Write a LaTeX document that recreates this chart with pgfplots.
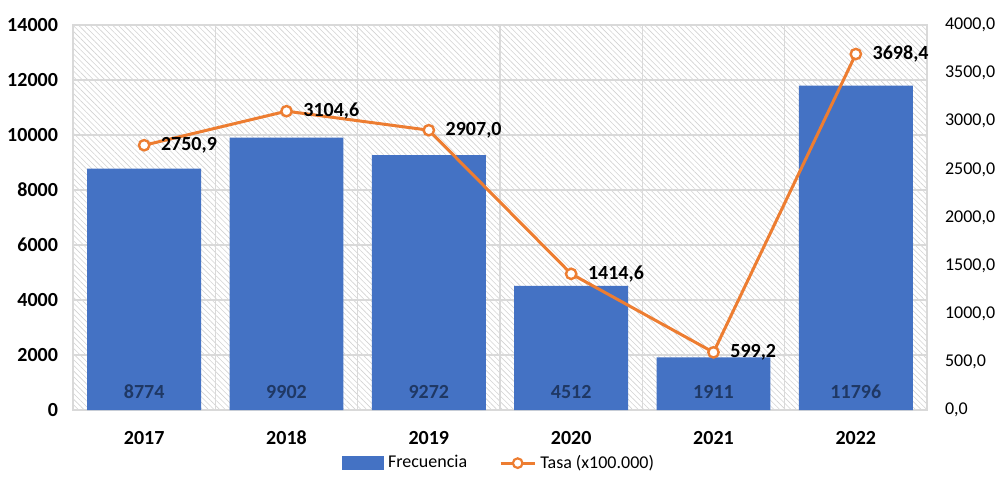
\documentclass[border=0pt]{standalone}
\usepackage{pgfplots}
\pgfplotsset{compat=1.18}
\usepackage{fontspec}
\setmainfont{Carlito}
\usetikzlibrary{patterns.meta}
\definecolor{barblue}{HTML}{4472C4}
\definecolor{lineorange}{HTML}{ED7D31}
\definecolor{navy}{HTML}{1F3864}
\definecolor{gridgray}{HTML}{D9D9D9}
\begin{document}
\begin{tikzpicture}[font=\fontsize{9}{11}\selectfont]
\path[use as bounding box] (-36.5pt,-37pt) rectangle (463.5pt,205pt);
\begin{axis}[
  at={(0,0)}, anchor=south west,
  scale only axis, width=427pt, height=192.5pt,
  xmin=-0.5, xmax=5.5, ymin=0, ymax=14000,
  xtick={0,1,2,3,4,5}, xticklabels={2017,2018,2019,2020,2021,2022},
  ytick={0,2000,...,14000},
  minor xtick={-0.5,0.5,1.5,2.5,3.5,4.5,5.5},
  xminorgrids, ymajorgrids,
  grid style={draw=gridgray, line width=0.6pt},
  minor grid style={draw=gridgray, line width=0.6pt},
  major tick length=0, minor tick length=0,
  axis line style={draw=gridgray, line width=0.6pt},
  axis background/.style={pattern={Lines[angle=-45,distance=2pt,line width=0.3pt]}, pattern color=gray!35},
  xticklabel style={font=\bfseries, yshift=-7pt},
  yticklabel style={font=\bfseries, xshift=-4pt},
  /pgf/number format/assume math mode=true,
  scaled y ticks=false,
  y tick label style={/pgf/number format/.cd, fixed, 1000 sep={}},
  legend style={at={(0.5,-0.138)}, anchor=center, draw=none, fill=none,
    legend columns=2, /tikz/every even column/.append style={column sep=14pt},
    font=\fontsize{9}{11}\selectfont},
]
\addplot[ybar, bar width=0.8, fill=barblue, draw=none,
  legend image code/.code={\fill[barblue] (0pt,-3.5pt) rectangle (21pt,3.5pt);}]
  coordinates {(0,8774) (1,9902) (2,9272) (3,4512) (4,1911) (5,11796)};
\addlegendentry{Frecuencia}
\addlegendimage{lineorange, line width=1.5pt, mark=*, mark size=2.4pt,
  mark options={fill=white, draw=lineorange, line width=1.1pt}}
\addlegendentry{Tasa (x100.000)}
\addplot[draw=none, forget plot, nodes near coords, point meta=explicit symbolic,
  every node near coord/.style={anchor=center, font=\bfseries, text=navy}]
  coordinates {(0,650)[8774] (1,650)[9902] (2,650)[9272] (3,650)[4512] (4,650)[1911] (5,650)[11796]};
\end{axis}
\begin{axis}[
  at={(0,0)}, anchor=south west,
  scale only axis, width=427pt, height=192.5pt,
  xmin=-0.5, xmax=5.5, ymin=0, ymax=4000,
  ytick={0,500,...,4000},
  axis x line=none, axis y line*=right,
  axis line style={draw=none},
  major tick length=0,
  yticklabel style={xshift=5.5pt},
  /pgf/number format/assume math mode=true,
  scaled y ticks=false,
  y tick label style={/pgf/number format/.cd, fixed, fixed zerofill, precision=1, use comma, 1000 sep={}},
]
\addplot[lineorange, line width=1.5pt, mark=*, mark size=2.6pt,
  mark options={fill=white, draw=lineorange, line width=1.2pt},
  nodes near coords, point meta=explicit symbolic,
  every node near coord/.style={anchor=west, font=\bfseries, text=black, xshift=4.5pt}]
  coordinates {(0,2750.9)[{2750,9}] (1,3104.6)[{3104,6}] (2,2907.0)[{2907,0}] (3,1414.6)[{1414,6}] (4,599.2)[{599,2}] (5,3698.4)[{3698,4}]};
\end{axis}
\end{tikzpicture}
\end{document}
